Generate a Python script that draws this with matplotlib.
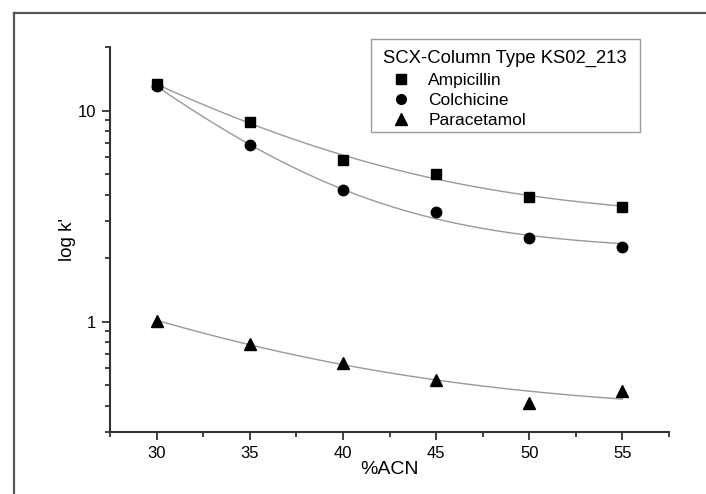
import numpy as np
import matplotlib
matplotlib.use("Agg")
import matplotlib.pyplot as plt
from matplotlib.ticker import MultipleLocator, LogLocator, NullFormatter, FixedLocator, FixedFormatter
from matplotlib.lines import Line2D
from matplotlib.patches import Rectangle

plt.rcParams['font.family'] = ['Liberation Sans', 'DejaVu Sans']

acn = [30, 35, 40, 45, 50, 55]
ampicillin = [13.3, 8.83, 5.84, 5.03, 3.91, 3.48]
colchicine = [13.05, 6.84, 4.20, 3.30, 2.49, 2.26]
paracetamol = [1.01, 0.783, 0.640, 0.529, 0.413, 0.469]
series_names = ['Ampicillin', 'Colchicine', 'Paracetamol']
legend_title = 'SCX-Column Type KS02_213'


def expdec_fit(x, y):
    """First-order exponential decay fit y = y0 + A*exp(-x/t) (grid search on t)."""
    x = np.asarray(x, float)
    y = np.asarray(y, float)
    best = None
    for t in np.linspace(1.0, 80.0, 4000):
        M = np.column_stack([np.ones_like(x), np.exp(-x / t)])
        coef, *_ = np.linalg.lstsq(M, y, rcond=None)
        r = np.sum((M @ coef - y) ** 2)
        if best is None or r < best[0]:
            best = (r, t, coef)
    _, t, coef = best
    return lambda xx: coef[0] + coef[1] * np.exp(-np.asarray(xx) / t)


W, H = 706, 494
fig = plt.figure(figsize=(W / 100, H / 100), dpi=100)

# outer frame (clipped at right/bottom)
fig.add_artist(Line2D([14 / W, 14 / W], [1 - 13 / H, 0], color='#555555', lw=1.6))
fig.add_artist(Line2D([14 / W, 1.0], [1 - 13 / H, 1 - 13 / H], color='#555555', lw=1.6))

left, right, top, bottom = 110, 669, 47, 432
ax = fig.add_axes([left / W, 1 - bottom / H, (right - left) / W, (bottom - top) / H])

ax.set_yscale('log')
ax.set_xlim(27.5, 57.5)
ax.set_ylim(0.3, 20)

xs = np.linspace(30, 55, 200)
markers = ['s', 'o', '^']
sizes = [7, 7.5, 8.5]
data = [ampicillin, colchicine, paracetamol]
handles = []
for name, y, m, ms in zip(series_names, data, markers, sizes):
    f = expdec_fit(acn, y)
    ax.plot(xs, f(xs), color='#999999', lw=1.0, zorder=2)
    ax.plot(acn, y, linestyle='none', marker=m, ms=ms, color='black', zorder=3)
    handles.append(Line2D([], [], linestyle='none', marker=m, ms=ms - 0.5, color='black', label=name))

for s in ['top', 'right']:
    ax.spines[s].set_visible(False)
for s in ['left', 'bottom']:
    ax.spines[s].set_linewidth(1.5)
    ax.spines[s].set_color('#333333')

ax.xaxis.set_major_locator(MultipleLocator(5))
ax.xaxis.set_minor_locator(MultipleLocator(2.5))
ax.yaxis.set_major_locator(FixedLocator([1, 10]))
ax.yaxis.set_major_formatter(FixedFormatter(['1', '10']))
ax.yaxis.set_minor_locator(LogLocator(base=10, subs=np.arange(2, 10), numticks=20))
ax.yaxis.set_minor_formatter(NullFormatter())

ax.tick_params(which='major', direction='out', length=6, width=1.3, color='#333333',
               labelsize=12, pad=4)
ax.tick_params(which='minor', direction='out', length=3.5, width=1.3, color='#333333')

ax.set_xlabel('%ACN', fontsize=14, labelpad=0)
ax.set_ylabel("log k'", fontsize=13.5, labelpad=1)

# legend frame drawn separately
frame = Rectangle((371 / W, 1 - 132 / H), (640 - 371) / W, (132 - 39) / H,
                  transform=fig.transFigure, facecolor='white',
                  edgecolor='#999999', lw=1.0, zorder=4, clip_on=False)
ax.add_artist(frame)

leg = ax.legend(handles=handles, title=legend_title, loc='upper left',
                bbox_to_anchor=(371 / W, 1 - 38 / H), bbox_transform=fig.transFigure,
                fontsize=12.5, title_fontsize=13.3, frameon=False,
                borderpad=0.7, labelspacing=0.3,
                handletextpad=0.6, handlelength=2.0, borderaxespad=0)
leg._legend_box.align = 'left'
leg.set_zorder(5)

fig.savefig('out.png', dpi=100)
